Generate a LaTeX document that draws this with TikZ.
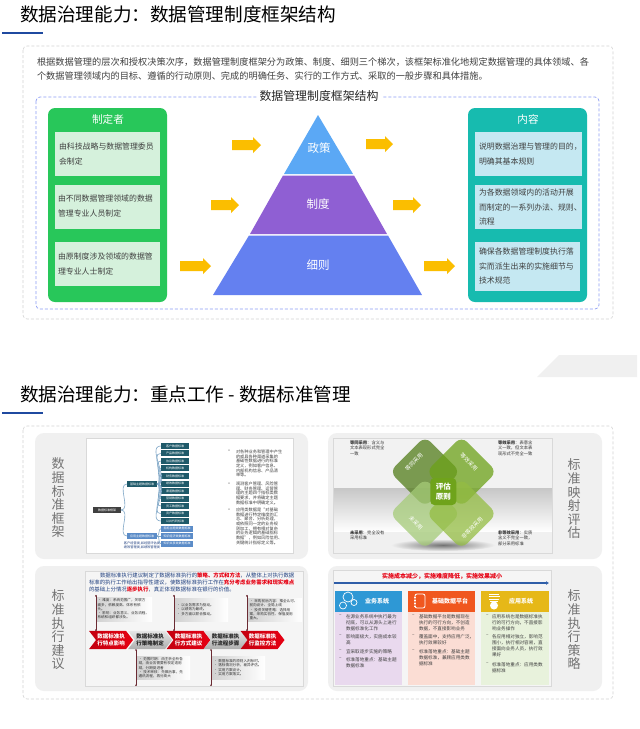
\documentclass[tikz,border=0pt]{standalone}
\usepackage{fontspec}
\setmainfont{Noto Sans CJK SC}
\usetikzlibrary{shapes.symbols,arrows.meta}
\definecolor{ink}{HTML}{404040}
\definecolor{cardline}{HTML}{D4D4D4}
\definecolor{panelgray}{HTML}{F0F0F0}
\definecolor{navyline}{HTML}{1F4AA0}
\definecolor{boxblue}{HTML}{8C9CF5}
\definecolor{greenp}{HTML}{28C75A}
\definecolor{greenb}{HTML}{D5F1DC}
\definecolor{tealp}{HTML}{17BBAF}
\definecolor{tealb}{HTML}{C5E8F2}
\definecolor{arrowy}{HTML}{FBBE00}
\definecolor{pyrA}{HTML}{5BA8F5}
\definecolor{pyrB}{HTML}{8F5FD3}
\definecolor{pyrC}{HTML}{6480F0}
\definecolor{leafdark}{HTML}{1F5A6A}
\definecolor{leafblue}{HTML}{5B8CC8}
\definecolor{treeline}{HTML}{7FA7C7}
\definecolor{stemred}{HTML}{6B2B33}
\definecolor{redtxt}{HTML}{E60012}
\definecolor{bluetxt}{HTML}{1F3F7F}
\definecolor{flowblue}{HTML}{2F5EA8}
\definecolor{dmA}{HTML}{537D1B}
\definecolor{dmB}{HTML}{6CA118}
\definecolor{dmC}{HTML}{A5CB78}
\definecolor{dmD}{HTML}{94BD43}
\definecolor{dmCore}{HTML}{6FA31B}
\definecolor{hdA}{HTML}{2E98D5}
\definecolor{hdB}{HTML}{F0571F}
\definecolor{hdC}{HTML}{E6B818}
\definecolor{bdA}{HTML}{E9D9EE}
\definecolor{bdB}{HTML}{FBDDD4}
\definecolor{bdC}{HTML}{E8F2DC}
\newcommand\fs[2]{\fontsize{#1}{#2}\selectfont}
\newcommand\blockarr[4]{\fill[arrowy] (#1,#4-5) -- (#2,#4-5) -- (#2,#4-8) -- (#3,#4) -- (#2,#4+8) -- (#2,#4+5) -- (#1,#4+5) -- cycle;}
\tikzset{
  x=1pt,y=-1pt,
  every node/.style={inner sep=0pt,outer sep=0pt,text=ink},
  pagetitle/.style={anchor=west,text=black,font=\fs{18.6}{22}},
  card/.style={draw=cardline,densely dashed,line width=.6pt,rounded corners=4pt,fill=white},
  panel/.style={fill=panelgray,rounded corners=9pt},
  shot/.style={draw=black!15,line width=.7pt},
  sidelabel/.style={align=center,text=black!55,font=\fs{13}{13.6}},
  lblock/.style={anchor=north west,align=left,font=\fs{7.9}{14.4}},
  pyrlabel/.style={text=white,font=\fs{11.5}{14}},
  heading/.style={text=white,font=\fs{10.6}{13}},
  leafA/.style={fill=leafdark,text=white,font=\fs{3}{3.4},minimum width=28.5pt,minimum height=6pt},
  leafB/.style={fill=leafblue,text=white,font=\fs{3}{3.4},minimum width=32pt,minimum height=6pt},
  treelink/.style={draw=treeline,line width=.6pt},
  smalltxt/.style={anchor=north west,align=left,font=\fs{4.2}{4.65}},
  cornertxt/.style={anchor=north west,align=left,font=\fs{4.3}{5.4},text=black!80},
  dmd/.style={minimum width=50pt,minimum height=50pt,rounded corners=8pt,fill opacity=.75},
  dmdtxt/.style={text=white,font=\fs{5.5}{6}},
  chevron/.style={signal,signal to=east,signal from=west,signal pointer angle=105,minimum width=44pt,minimum height=18.3pt,align=center,font=\bfseries\fs{5.5}{6.2}},
  chevR/.style={chevron,left color=redtxt!85!black,right color=redtxt,text=white},
  chevG/.style={chevron,top color=black!10,bottom color=black!32,text=black!85},
  stem/.style={draw=stemred,line width=.7pt,{Circle[length=1.6pt]}-{Circle[length=1.6pt]}},
  note/.style={anchor=north west,align=left,left color=black!18,right color=white,inner sep=1.5pt,font=\fs{3.6}{4.3},text=black!80},
  colhead/.style={text=white,font=\bfseries\fs{6}{7}},
  coltxt/.style={anchor=north west,align=left,font=\fs{4.6}{5.9},text=black!75},
}
\begin{document}
\begin{tikzpicture}
\useasboundingbox (0,0) rectangle (640,729);
\fill[white] (0,0) rectangle (640,729);

% --- first section ---
\node[pagetitle] (titleA) at (20,14) {数据治理能力：数据管理制度框架结构};
\fill[navyline] (2,32.2) rectangle (43,34.2);
\fill[panelgray] (537,377) -- (559,355) -- (637,355) -- (637,377) -- cycle;
\path[card] (23,46) rectangle (613,319);
\node[anchor=north west,align=left,font=\fs{9.2}{14}] (intro) at (37,57.4)
  {根据数据管理的层次和授权决策次序，数据管理制度框架分为政策、制度、细则三个梯次，该框架标准化地规定数据管理的具体领域、各\\
   个数据管理领域内的目标、遵循的行动原则、完成的明确任务、实行的工作方式、采取的一般步骤和具体措施。};
\draw[boxblue,densely dashed,line width=.7pt,rounded corners=4pt] (36,97) rectangle (599,309);
\node[fill=white,inner xsep=3pt,inner ysep=1pt,text=black!85,font=\fs{11.9}{14}] (frameTitle) at (319,96) {数据管理制度框架结构};

% left panel
\fill[greenp,rounded corners=7pt] (48,108) rectangle (167,302);
\node[heading] (makerHead) at (108,119) {制定者};
\fill[greenb] (55,132) rectangle (160,176);
\fill[greenb] (55,185) rectangle (160,229);
\fill[greenb] (55,242) rectangle (160,286);
\node[lblock] (makerA) at (59,143) {由科技战略与数据管理委员\\会制定};
\node[lblock] (makerB) at (58,195) {由不同数据管理领域的数据\\管理专业人员制定};
\node[lblock] (makerC) at (58,253) {由原制度涉及领域的数据管\\理专业人士制定};

% right panel
\fill[tealp,rounded corners=7pt] (468,108) rectangle (587,302);
\node[heading] (contentHead) at (528,119) {内容};
\fill[tealb] (475,132) rectangle (582,176);
\fill[tealb] (475,185) rectangle (582,229);
\fill[tealb] (475,242) rectangle (580,291);
\node[lblock] (contentA) at (479,143) {说明数据治理与管理的目的，\\明确其基本规则};
\node[lblock] (contentB) at (479,189) {为各数据领域内的活动开展\\而制定的一系列办法、规则、\\流程};
\node[lblock] (contentC) at (479,248) {确保各数据管理制度执行落\\实而派生出来的实施细节与\\技术规范};

% pyramid
\fill[pyrA] (318,115) -- (353,174) -- (284,174) -- cycle;
\fill[pyrB] (283,175.5) -- (354,175.5) -- (387,234) -- (250,234) -- cycle;
\fill[pyrC] (249,235.5) -- (388,235.5) -- (422,295) -- (213,295) -- cycle;
\node[pyrlabel] (lvA) at (319,148) {政策};
\node[pyrlabel] (lvB) at (318,204) {制度};
\node[pyrlabel] (lvC) at (318,265) {细则};

% yellow arrows
\blockarr{232}{253}{261}{145}
\blockarr{366}{385}{393}{144}
\blockarr{211}{231}{239}{205}
\blockarr{180}{203}{211}{266}
\blockarr{393}{413}{421}{205}
\blockarr{424}{447}{455}{266}

% --- second section ---
\node[pagetitle] (titleB) at (20,394) {数据治理能力：重点工作 - 数据标准管理};
\fill[navyline] (2,411.5) rectangle (43,413.5);
\path[card] (23,426) rectangle (613,699);
\fill[panel] (35,433) rectangle (308,559);
\fill[panel] (328,433) rectangle (602,559);
\fill[panel] (35,566) rectangle (308,691);
\fill[panel] (328,566) rectangle (602,691);
\node[sidelabel] (sideA) at (58,498) {数\\据\\标\\准\\框\\架};
\node[sidelabel] (sideB) at (574,499) {标\\准\\映\\射\\评\\估};
\node[sidelabel] (sideC) at (58,630) {标\\准\\执\\行\\建\\议};
\node[sidelabel] (sideD) at (574,630) {标\\准\\执\\行\\策\\略};

% framework thumbnail
\path[shot,fill=white] (86,438) rectangle (293,553);
\node[fill=black!75,text=white,font=\fs{3}{3.4},minimum width=28pt,minimum height=6pt] (root) at (107,510) {数据标准框架};
\node[leafA,minimum width=30pt] (base) at (142,484) {基础主题数据标准};
\node[leafB,minimum width=30pt] (appl) at (142,536) {应用主题数据标准};
\node[leafA] (a1) at (175,446) {客户数据标准};
\node[leafA] (a2) at (175,453.3) {产品数据标准};
\node[leafA] (a3) at (175,461) {协议数据标准};
\node[leafA] (a4) at (175,468.3) {机构数据标准};
\node[leafA] (a5) at (175,476) {财务数据标准};
\node[leafA] (a6) at (175,483.7) {绩效数据标准};
\node[leafA] (a7) at (175,491) {渠道数据标准};
\node[leafA] (a8) at (175,498.7) {营销数据标准};
\node[leafA] (a9) at (175,506) {员工数据标准};
\node[leafA] (a10) at (175,513.7) {资产数据标准};
\node[leafA] (a11) at (175,521) {公共代码标准};
\node[leafB] (b1) at (177,528.7) {指标主题类数据标准};
\node[leafB] (b2) at (177,536) {知识经济类数据标准};
\node[leafB] (b3) at (177,543.7) {知识共享类数据标准};
\node[align=center,text=bluetxt,font=\fs{3.2}{4}] (applNote) at (142,545) {客户经营类,如经营评估类\\绩效管理类,如绩效管理类};
\draw[treelink] (root.east) to[out=0,in=180] (base.west);
\draw[treelink] (root.east) to[out=0,in=180] (appl.west);
\foreach \n in {a1,a2,a3,a4,a5,a6,a7,a8,a9,a10,a11}
  \draw[treelink] (base.east) to[out=0,in=180] (\n.west);
\foreach \n in {b1,b2,b3}
  \draw[treelink] (appl.east) to[out=0,in=180] (\n.west);
\node[font=\fs{5}{5}] (bulA) at (229,451.5) {•};
\node[font=\fs{5}{5}] (bulB) at (229,484) {•};
\node[font=\fs{5}{5}] (bulC) at (229,510) {•};
\node[smalltxt] (txtA) at (236,450) {对各种业务和管理中产生\\的或具各种渠道采集的\\基础性数据进行的标准\\定义，例如客户信息、\\内部机构信息、产品清\\单等。};
\node[smalltxt] (txtB) at (236,482) {观测客户管理、风险管\\理、财务管理、运营管\\理的主题四个指标类数\\据要求，并将确定主题\\数据标准中明确定义。};
\node[smalltxt] (txtC) at (236,508) {应用类数据是“对基础\\数据进行特定维度的汇\\总、聚合、分析处理，\\或依照同一定的业务规\\则加工，拥有相对复杂\\的业务逻辑的基础指标\\数据”，例如风险信用、\\关键统计指标定义等。};

% mapping thumbnail
\path[fill=black!5] (333,438) rectangle (552,488);
\shade[top color=black!22,bottom color=white] (333,488) rectangle (552,532);
\path[fill=black!6] (333,532) rectangle (552,553);
\shade[inner color=black!55,outer color=black!6] (443,545) ellipse (52pt and 6pt);
\draw[shot] (333,438) rectangle (552,553);
\node[dmd,rotate=45,fill=dmA] (dTL) at (425,471.7) {};
\node[dmd,rotate=-45,fill=dmB] (dTR) at (461.5,471.7) {};
\node[dmd,rotate=-45,fill=dmC] (dBL) at (425,513.7) {};
\node[dmd,rotate=45,fill=dmD] (dBR) at (461.5,513.7) {};
\node[dmdtxt,rotate=45] (tTL) at (414,462) {等同采用};
\node[dmdtxt,rotate=-45] (tTR) at (469,462) {等效采用};
\node[dmdtxt,rotate=-45] (tBL) at (416,523) {未采用};
\node[dmdtxt,rotate=45] (tBR) at (472,528) {非等效采用};
\node[fill=dmCore,text=white,rounded corners=4pt,minimum width=26pt,minimum height=27pt,align=center,font=\bfseries\fs{7.5}{9.5}] (core) at (443.3,491.5) {评估\\原则};
\node[cornertxt] (cTL) at (350,440.8) {\textbf{等同采用}：含义与\\文本表现形式完全\\一致};
\node[cornertxt] (cTR) at (498,440.8) {\textbf{等效采用}：表意含\\义一致，但文本表\\现形式不完全一致};
\node[cornertxt] (cBL) at (350,530.8) {\textbf{未采用}：完全没有\\采用标准};
\node[cornertxt] (cBR) at (498,530.8) {\textbf{非等效采用}：实质\\含义不完全一致，\\部分采用标准};

% advice thumbnail
\path[shot,fill=black!4] (85,571) rectangle (303,686);
\node[anchor=north west,align=left,text=bluetxt,font=\fs{5.4}{7.1}] (advA) at (89,573)
  {\hspace{11pt}数据标准执行建议制定了数据标准执行的\textcolor{redtxt}{\bfseries 策略、方式和方法}，从整体上对执行数据\\
   标准的执行工作给出指导性建议，使数据标准执行工作在\textcolor{redtxt}{\bfseries 充分考虑业务需求和现实难点}\\
   的基础上分情况\textcolor{redtxt}{\bfseries 逐步执行}，真正体现数据标准在银行的价值。};
\node[note,text width=53pt,minimum height=24pt] (nA) at (96,597) {• 难度：系统范围广，关联方\\面多，依赖度高、体系有依\\头。\\• 影响：业务意义、业务流程、\\系统和组织都涉及。};
\node[note,text width=50pt,minimum height=23pt] (nB) at (175,598) {• 以业务需求为驱动。\\• 以绩效为最终。\\• 多方面以联合推动。};
\node[note,text width=51pt,minimum height=23pt] (nC) at (248,598) {• 采购前后内容：推全认可、\\前向设计、全局上线\\• 投资关键性略：选择用\\案，采购实验性、保值度用\\重大。};
\node[note,text width=50pt,minimum height=23pt] (nD) at (137,656) {• 范围时期：由主析全析各\\域，由业务需要有权定适用\\域，分期促进者\\• 技术审核：先做后事，先\\通讯流程，再分高大};
\node[note,text width=50pt,minimum height=23pt] (nE) at (212,656) {• 数据标准的原则入判标时。\\• 落标情况分析，差异评估。\\• 实用方案设计。\\• 实用方案落实。};
\node[chevR] (ch1) at (111,640) {数据标准执\\行特点影响};
\node[chevG] (ch2) at (150,640) {数据标准执\\行策略制定};
\node[chevR] (ch3) at (188.5,640) {数据标准执\\行方式建议};
\node[chevG] (ch4) at (225.5,640) {数据标准执\\行流程步骤};
\node[chevR] (ch5) at (262.5,640) {数据标准执\\行监控方法};
\coordinate (sA) at (96,595);
\coordinate (sB) at (174,595);
\coordinate (sC) at (247,595);
\coordinate (sD) at (136,686);
\coordinate (sE) at (211,686);
\draw[stem] (sA) -- (sA |- ch1.north);
\draw[stem] (sB) -- (sB |- ch3.north);
\draw[stem] (sC) -- (sC |- ch5.north);
\draw[stem] (sD) -- (sD |- ch2.south);
\draw[stem] (sE) -- (sE |- ch4.south);

% strategy thumbnail
\path[shot,fill=black!4] (333,570) rectangle (551,686);
\node[text=redtxt,font=\bfseries\fs{6}{7}] (costLine) at (442,576) {实施成本减少，实施难度降低，实施效果减小};
\coordinate (flowA) at (334,583);
\coordinate (flowB) at (549,583);
\draw[-{Latex[length=3pt,width=4pt]},color=flowblue,line width=1.8pt] (flowA) -- (flowB);
\fill[bdA] (335,612) rectangle (402,685);
\fill[bdB] (408,612) rectangle (475,685);
\fill[bdC] (481,612) rectangle (549,685);
\fill[hdA] (335,591) rectangle (402,612);
\fill[hdB] (408,591) rectangle (475,612);
\fill[hdC] (481,591) rectangle (549,612);
\node[colhead] (hA) at (377,601) {业务系统};
\node[colhead] (hB) at (450,601) {基础数据平台};
\node[colhead] (hC) at (521,601) {应用系统};
% icons
\draw[white,line width=.7pt] (348,597) circle (5pt) (343,605.5) circle (3.5pt) (354,602.5) circle (3pt);
\draw[white,line width=.8pt,rounded corners=2pt] (415,594) rectangle (425,608);
\draw[white,line width=.5pt] (414,597) -- (416,597) (414,600) -- (416,600) (414,603) -- (416,603) (414,606) -- (416,606);
\fill[white] (494,605.5) circle (4pt);
\draw[white,line width=.8pt] (489,594) -- (499,594) (488.5,596.5) -- (499.5,596.5) (489,599) -- (499,599) (490,601) -- (498,601);
% column bodies
\node[coltxt] (dashA1) at (339,614.7) {–};
\node[coltxt] (colA1) at (346,614.7) {在源业务系统中执行最为\\彻底，可以从源头上进行\\数据标准化工作};
\node[coltxt] (dashA2) at (339,635) {–};
\node[coltxt] (colA2) at (346,635) {影响面极大，实施成本较\\高};
\node[coltxt] (dashA3) at (339,649.7) {–};
\node[coltxt] (colA3) at (346,649.7) {宜采取逐步实施的策略};
\node[coltxt] (dashA4) at (339,657.7) {–};
\node[coltxt] (colA4) at (346,657.7) {标准落地重点：基础主题\\数据标准};
\node[coltxt] (dashB1) at (412,614.7) {–};
\node[coltxt] (colB1) at (419,614.7) {基础数据平台是数据现在\\执行的可行方向，不创造\\数据，不直接影响业务};
\node[coltxt] (dashB2) at (412,635) {–};
\node[coltxt] (colB2) at (419,635) {覆盖面中，支持应用广泛，\\执行效果较好};
\node[coltxt] (dashB3) at (412,649.7) {–};
\node[coltxt] (colB3) at (419,649.7) {标准落地重点：基础主题\\数据标准，兼顾应用类数\\据标准};
\node[coltxt] (dashC1) at (486,614.7) {–};
\node[coltxt] (colC1) at (492,614.7) {应用系统也是数据标准执\\行的可行方向，不直接影\\响业务操作};
\node[coltxt] (dashC2) at (486,635) {–};
\node[coltxt] (colC2) at (492,635) {各应用相对独立，影响范\\围小，执行相对容易，直\\接面向业务人员，执行效\\果好};
\node[coltxt] (dashC3) at (486,662.7) {–};
\node[coltxt] (colC3) at (492,662.7) {标准落地重点：应用类数\\据标准};
\end{tikzpicture}
\end{document}
